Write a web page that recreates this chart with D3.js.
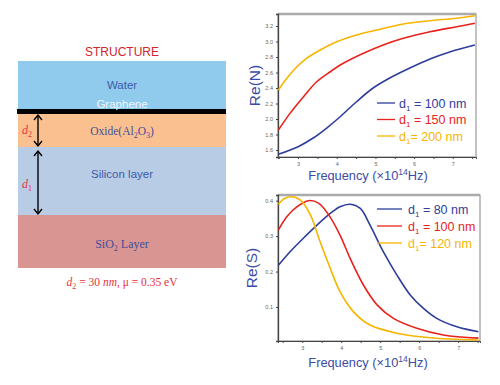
<!DOCTYPE html>
<html>
<head>
<script src="https://d3js.org/d3.v7.min.js"></script>
<style>
  body { margin: 0; background: #fff; }
  svg text { font-family: Arial, "Liberation Sans", sans-serif; }
  .serif { font-family: "Liberation Serif", "DejaVu Serif", serif; }
  .tick text { font-size: 5.5px; fill: #666; }
</style>
</head>
<body>
<div id="chart"></div>
<script>
// structure layers (top to bottom)
const layers = ["Water", "Oxide", "Silicon", "SiO2"];
const layerColors = ["#90cbee", "#fbc08f", "#b9cce6", "#d99591"];
const layerEdges = [61, 112, 147, 215, 268];

// Re(N) panel
const freqN = [
  [2.49, 3.0, 3.39, 3.74, 4.08, 4.51, 4.94, 5.37, 5.89, 6.41, 6.92, 7.57],
  [2.49, 2.79, 3.14, 3.48, 3.83, 4.17, 4.69, 5.2, 5.72, 6.41, 7.1, 7.57],
  [2.49, 2.71, 2.97, 3.22, 3.57, 4.0, 4.51, 5.03, 5.72, 6.41, 7.1, 7.57]
];
const reN = [
  [1.545, 1.643, 1.755, 1.884, 2.026, 2.223, 2.40, 2.529, 2.658, 2.774, 2.865, 2.955],
  [1.858, 2.073, 2.288, 2.481, 2.61, 2.719, 2.848, 2.955, 3.041, 3.126, 3.19, 3.235],
  [2.374, 2.525, 2.675, 2.783, 2.89, 2.997, 3.084, 3.148, 3.226, 3.268, 3.30, 3.333]
];
const labelsN = ["100", "150", "200"];

// Re(S) panel
const freqS = [
  [2.39, 2.69, 3.03, 3.38, 3.72, 3.97, 4.23, 4.49, 4.74, 5.08, 5.43, 5.77, 6.11, 6.45, 6.97, 7.52],
  [2.39, 2.61, 2.87, 3.16, 3.42, 3.68, 3.97, 4.23, 4.57, 4.92, 5.34, 5.94, 6.62, 7.52],
  [2.39, 2.56, 2.74, 2.95, 3.21, 3.46, 3.72, 3.97, 4.31, 4.74, 5.43, 6.28, 7.52]
];
const reS = [
  [0.218, 0.256, 0.294, 0.331, 0.364, 0.383, 0.390, 0.378, 0.331, 0.256, 0.190, 0.134, 0.096, 0.068, 0.044, 0.030],
  [0.317, 0.355, 0.383, 0.400, 0.393, 0.360, 0.303, 0.237, 0.162, 0.106, 0.068, 0.040, 0.021, 0.012],
  [0.390, 0.407, 0.411, 0.402, 0.360, 0.284, 0.209, 0.143, 0.087, 0.049, 0.026, 0.013, 0.007]
];
const labelsS = ["80", "100", "120"];

const lineColors = ["#2e3d9c", "#e8231c", "#f7b500"];
const ticksN = [1.6, 1.8, 2.0, 2.2, 2.4, 2.6, 2.8, 3.0, 3.2];
const ticksS = [0.1, 0.2, 0.3, 0.4];

const svg = d3.select("#chart").append("svg").attr("width", 500).attr("height", 385);

// ---- left: structure ----
svg.append("text").attr("x", 122).attr("y", 56).attr("text-anchor", "middle")
  .attr("font-size", 12).attr("fill", "#d0262b").text("STRUCTURE");

svg.selectAll(".layer").data(layers).enter().append("rect")
  .attr("x", 18).attr("width", 208)
  .attr("y", (d, i) => layerEdges[i])
  .attr("height", (d, i) => layerEdges[i + 1] - layerEdges[i])
  .attr("fill", (d, i) => layerColors[i]);

svg.append("rect").attr("x", 17).attr("y", 109).attr("width", 209).attr("height", 5).attr("fill", "#000");

svg.append("text").attr("x", 122).attr("y", 89).attr("text-anchor", "middle")
  .attr("font-size", 11.5).attr("fill", "#3d5aa6").text("Water");
svg.append("text").attr("x", 122).attr("y", 108).attr("text-anchor", "middle")
  .attr("font-size", 11.5).attr("fill", "#eef6fb").text("Graphene");
const ox = svg.append("text").attr("class", "serif").attr("x", 122).attr("y", 135).attr("text-anchor", "middle")
  .attr("font-size", 11.5).attr("fill", "#3f4f9a");
ox.append("tspan").text("Oxide(Al");
ox.append("tspan").attr("font-size", 8).attr("dy", 2.5).text("2");
ox.append("tspan").attr("dy", -2.5).text("O");
ox.append("tspan").attr("font-size", 8).attr("dy", 2.5).text("3");
ox.append("tspan").attr("dy", -2.5).text(")");
svg.append("text").attr("x", 122).attr("y", 178).attr("text-anchor", "middle")
  .attr("font-size", 11.5).attr("fill", "#3d5aa6").text("Silicon layer");
const si = svg.append("text").attr("class", "serif").attr("x", 122).attr("y", 248).attr("text-anchor", "middle")
  .attr("font-size", 12).attr("fill", "#3f4f9a");
si.append("tspan").text("SiO");
si.append("tspan").attr("font-size", 8).attr("dy", 2.5).text("2");
si.append("tspan").attr("dy", -2.5).text(" Layer");

// arrows
function arrow(y1, y2) {
  const g = svg.append("g").attr("stroke", "#000").attr("stroke-width", 1.4).attr("fill", "none");
  g.append("line").attr("x1", 38).attr("x2", 38).attr("y1", y1).attr("y2", y2);
  g.append("path").attr("d", `M34,${y1 + 5}L38,${y1}L42,${y1 + 5}`);
  g.append("path").attr("d", `M34,${y2 - 5}L38,${y2}L42,${y2 - 5}`);
}
arrow(115, 146);
arrow(151, 214);
function dlab(x, y, sub) {
  const t = svg.append("text").attr("class", "serif").attr("x", x).attr("y", y)
    .attr("font-size", 12).attr("font-style", "italic").attr("fill", "#e8303a");
  t.append("tspan").text("d");
  t.append("tspan").attr("font-size", 8).attr("dy", 2.5).attr("font-style", "normal").text(sub);
}
dlab(22, 134, "2");
dlab(22, 188, "1");

const bt = svg.append("text").attr("class", "serif").attr("x", 122).attr("y", 286).attr("text-anchor", "middle")
  .attr("font-size", 11.5).attr("fill", "#e8303a");
bt.append("tspan").attr("font-style", "italic").text("d");
bt.append("tspan").attr("font-size", 8).attr("dy", 2.5).text("2");
bt.append("tspan").attr("dy", -2.5).text(" = 30 ");
bt.append("tspan").attr("font-style", "italic").text("nm");
bt.append("tspan").text(", \u03bc = 0.35 eV");

// ---- right panels ----
function panel(cfg) {
  const x = d3.scaleLinear().domain(cfg.xd).range([cfg.left, cfg.right]);
  const y = d3.scaleLinear().domain(cfg.yd).range([cfg.bottom, cfg.top]);
  const g = svg.append("g");
  g.append("rect").attr("x", cfg.left).attr("y", cfg.top)
    .attr("width", cfg.right - cfg.left).attr("height", cfg.bottom - cfg.top)
    .attr("fill", "none").attr("stroke", "#9a9a9a").attr("stroke-width", 1.2);
  g.append("line").attr("x1", cfg.left).attr("x2", cfg.right).attr("y1", cfg.top).attr("y2", cfg.top)
    .attr("stroke", "#aaa").attr("stroke-width", 2.5);

  const xMinor = d3.range(2.5, 7.6, 0.5);
  g.append("g").attr("transform", `translate(0,${cfg.bottom})`)
    .call(d3.axisBottom(x).tickValues(xMinor).tickSize(2).tickFormat(d => Number.isInteger(d) ? d : ""))
    .call(a => a.select(".domain").attr("stroke", "#444"))
    .call(a => a.selectAll(".tick line").attr("stroke", "#444"));
  g.append("g").attr("transform", `translate(${cfg.left},0)`)
    .call(d3.axisLeft(y).tickValues(cfg.yt).tickSize(2).tickFormat(cfg.fmt))
    .call(a => a.select(".domain").attr("stroke", "#444").attr("stroke-width", 1.3))
    .call(a => a.selectAll(".tick line").attr("stroke", "#444"));

  const line = d3.line().curve(d3.curveCatmullRom).x(d => x(d[0])).y(d => y(d[1]));
  cfg.fx.forEach((fs, i) => {
    g.append("path").datum(fs.map((f, j) => [f, cfg.vals[i][j]]))
      .attr("d", line).attr("fill", "none").attr("stroke", lineColors[i]).attr("stroke-width", 1.6);
  });

  cfg.labels.forEach((lab, i) => {
    const yy = cfg.legY + i * cfg.legDy;
    g.append("line").attr("x1", cfg.legX1).attr("x2", cfg.legX2).attr("y1", yy).attr("y2", yy)
      .attr("stroke", lineColors[i]).attr("stroke-width", 1.3);
    const t = g.append("text").attr("x", cfg.legT).attr("y", yy + 4.5)
      .attr("font-size", 12.5).attr("fill", lineColors[i]);
    t.append("tspan").text("d");
    t.append("tspan").attr("font-size", 8).attr("dy", 3).text("1");
    t.append("tspan").attr("dy", -3).text((i === 2 ? "= " : " = ") + lab + " nm");
  });

  g.append("text").attr("transform", `translate(${cfg.left - cfg.ytOff},${(cfg.top + cfg.bottom) / 2}) rotate(-90)`)
    .attr("text-anchor", "middle").attr("font-size", 15.5).attr("fill", "#3b4ca6").text(cfg.ytitle);
  const xt = g.append("text").attr("x", 368).attr("y", cfg.bottom + cfg.xtOff)
    .attr("text-anchor", "middle").attr("font-size", 12.8).attr("fill", "#3b4ca6");
  xt.append("tspan").text("Frequency (\u00d710");
  xt.append("tspan").attr("font-size", 8.5).attr("dy", -5).text("14");
  xt.append("tspan").attr("dy", 5).text("Hz)");
}

panel({
  left: 278, right: 476, top: 14, bottom: 157,
  xd: [2.48, 7.6], yd: [1.51, 3.355], yt: ticksN, fmt: d3.format(".1f"),
  fx: freqN, vals: reN, labels: labelsN, ytitle: "Re(N)", ytOff: 18, xtOff: 23,
  legX1: 377, legX2: 395, legT: 399, legY: 103, legDy: 16.5
});
panel({
  left: 278, right: 480, top: 195, bottom: 341,
  xd: [2.38, 7.56], yd: [0.004, 0.416], yt: ticksS, fmt: d3.format(".1f"),
  fx: freqS, vals: reS, labels: labelsS, ytitle: "Re(S)", ytOff: 21, xtOff: 26,
  legX1: 377, legX2: 402, legT: 408, legY: 209, legDy: 17
});
</script>
</body>
</html>
